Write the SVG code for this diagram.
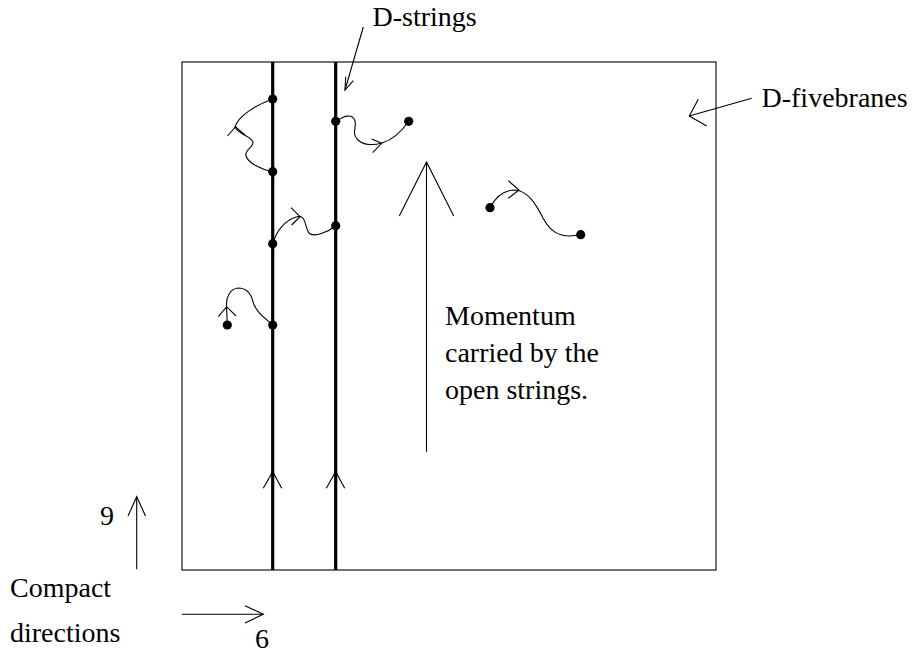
<svg xmlns="http://www.w3.org/2000/svg" width="917" height="654" viewBox="0 0 917 654">
<style>
text{font-family:"Liberation Serif",Tinos,"Times New Roman",serif;font-size:28px;fill:#000}
.thin{fill:none;stroke:#000;stroke-width:1.1}
.thick{fill:none;stroke:#000;stroke-width:3.2}
.dot{fill:#000}
</style>
<rect width="917" height="654" fill="#fff"/>
<g id="fivebrane">
<rect x="182" y="62" width="534" height="508" class="thin"/>
</g>
<g id="dstring1">
<line x1="272.7" y1="62" x2="272.7" y2="570" class="thick"/>
<polyline points="263.3,488.3 272.7,471.7 281.7,488.3" class="thin"/>
</g>
<g id="dstring2">
<line x1="335.7" y1="62" x2="335.7" y2="570" class="thick"/>
<polyline points="326.3,488.3 335.7,471.7 344.7,488.3" class="thin"/>
</g>
<g id="connectors">
<path class="thin" d="M272.7,171.7 C262,170 248,163 246,156 C244,150 254,147 253,142 C252,137 238,134 235,127 C238,116 256,105 272.7,99"/>
<polyline class="thin" points="227.5,136 235.5,126.7 245,135"/>
<path class="thin" d="M335.7,121.3 C343,117 352,112 355,121 C357,128 351,133 358,140 C364,146 375,145 382,143 C392,140 402,131 408.7,121.3"/>
<polyline class="thin" points="371.7,139 381.7,143.3 372.7,152.7"/>
<path class="thin" d="M272.7,243.7 C276,232 284,220 298,216.5 C306,215 305,228 309,233 C314,238 328,232 335.7,225.7"/>
<polyline class="thin" points="291,207.7 300,216.7 291.7,225"/>
<path class="thin" d="M272.7,325 C265,318 256,312 253,302 C251,293 247,288 238,288 C230,289 226,297 226.5,306 L227.3,325"/>
<polyline class="thin" points="218.3,316.7 226.7,306.7 236,316"/>
<path class="thin" d="M490,207.7 C495,198 503,190 515,190 C528,191 536,204 543,218 C550,231 558,236 570,236 L580.7,234.7"/>
<polyline class="thin" points="508.3,180.7 519,190 508.3,198.3"/>
<line class="thin" x1="426.5" y1="451.7" x2="426.5" y2="162"/>
<polyline class="thin" points="399.3,216 426.5,162 453.7,216"/>
<line class="thin" x1="363.3" y1="27" x2="345" y2="90"/>
<polyline class="thin" points="353.3,80.7 345,90 345.7,76.7"/>
<line class="thin" x1="751.7" y1="98.3" x2="689.3" y2="116"/>
<polyline class="thin" points="698.3,99.3 689.3,116 706.7,126"/>
<line class="thin" x1="136.7" y1="569.3" x2="136.7" y2="496.7"/>
<polyline class="thin" points="128,516 136.7,496.7 145.5,516"/>
<line class="thin" x1="181.7" y1="614.3" x2="263.3" y2="614.3"/>
<polyline class="thin" points="245,605.7 263.3,614.3 245,623"/>
</g>
<g id="endpoints">
<circle class="dot" cx="272.7" cy="99" r="4.6"/>
<circle class="dot" cx="272.7" cy="171.7" r="4.6"/>
<circle class="dot" cx="272.7" cy="243.7" r="4.6"/>
<circle class="dot" cx="272.7" cy="325" r="4.6"/>
<circle class="dot" cx="227.3" cy="325" r="4.6"/>
<circle class="dot" cx="335.7" cy="121.3" r="4.6"/>
<circle class="dot" cx="335.7" cy="225.7" r="4.6"/>
<circle class="dot" cx="408.7" cy="121.3" r="4.6"/>
<circle class="dot" cx="490" cy="207.7" r="4.6"/>
<circle class="dot" cx="580.7" cy="234.7" r="4.6"/>
</g>
<g id="labels">
<text x="372.5" y="26">D-strings</text>
<text x="761.5" y="107">D-fivebranes</text>
<text x="445" y="325">Momentum</text>
<text x="445" y="362">carried by the</text>
<text x="445" y="399">open strings.</text>
<text x="100" y="525">9</text>
<text x="10" y="597">Compact</text>
<text x="10" y="642">directions</text>
<text x="255" y="648">6</text>
</g>
</svg>
